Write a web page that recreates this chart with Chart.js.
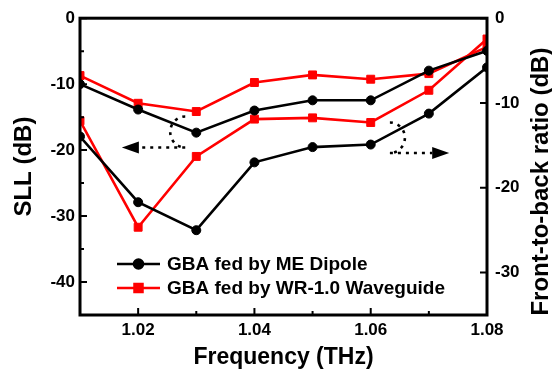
<!DOCTYPE html>
<html><head><meta charset="utf-8">
<script src="https://cdn.jsdelivr.net/npm/chart.js@4/dist/chart.umd.min.js"></script>
<style>html,body{margin:0;padding:0;background:#fff}#wrap{width:552px;height:373px;position:relative}</style>
</head><body><div id="wrap"><canvas id="c"></canvas></div>
<script>
const frequencies = [1.01, 1.02, 1.03, 1.04, 1.05, 1.06, 1.07, 1.08];
const sllDipole = [-10.0, -13.85, -17.35, -14.0, -12.45, -12.45, -7.95, -4.95];
const sllWaveguide = [-8.7, -12.9, -14.15, -9.75, -8.6, -9.25, -8.4, -4.35];
const fbrDipole = [-13.95, -21.7, -25.0, -17.0, -15.2, -14.9, -11.25, -5.8];
const fbrWaveguide = [-12.1, -24.65, -16.3, -11.9, -11.75, -12.3, -8.5, -2.45];
const seriesLabels = ['GBA fed by ME Dipole', 'GBA fed by WR-1.0 Waveguide'];
const xTickValues = [1.02, 1.04, 1.06, 1.08];
const xMinorValues = [1.03, 1.05, 1.07];
const sllTickValues = [0, -10, -20, -30, -40];
const sllMinorValues = [-5, -15, -25, -35];
const fbrTickValues = [0, -10, -20, -30];
const xTitle = 'Frequency (THz)';
const sllTitle = 'SLL (dB)';
const fbrTitle = 'Front-to-back ratio (dB)';
// dashed arrow annotations, in data units
const sllArrow = {arcX: 1.0281, arcY: -17.25, lineY: -19.6, tipX: 1.0172};
const fbrArrow = {arcX: 1.0633, arcY: -14.1, lineY: -15.9, tipX: 1.0735};

const FONT = '"Liberation Sans", Arial, sans-serif';
Chart.defaults.font.family = FONT;
Chart.defaults.color = '#000';

const toPts = arr => frequencies.map((f, i) => ({x: f, y: arr[i]}));
const BLACK = '#000000', RED = '#ff0000';
function ds(label, data, color, style, axis) {
  return {
    label, data: toPts(data), yAxisID: axis,
    borderColor: color, backgroundColor: color, borderWidth: 2.6,
    pointStyle: style, pointRadius: style === 'rect' ? 5.6 : 4.5,
    pointBorderWidth: 1, pointBorderColor: color, pointBackgroundColor: color,
    tension: 0, clip: 0
  };
}

const decor = {
  id: 'decor',
  afterDatasetsDraw(chart) {
    const {ctx, chartArea: a, scales} = chart;
    const x = scales.x, yl = scales.y, yr = scales.y1;
    ctx.save();
    ctx.strokeStyle = '#000'; ctx.fillStyle = '#000';
    // ticks (inward)
    ctx.lineWidth = 2;
    ctx.beginPath();
    xTickValues.forEach(v => { const p = x.getPixelForValue(v); ctx.moveTo(p, a.bottom); ctx.lineTo(p, a.bottom - 7); });
    xMinorValues.forEach(v => { const p = x.getPixelForValue(v); ctx.moveTo(p, a.bottom); ctx.lineTo(p, a.bottom - 4); });
    sllTickValues.forEach(v => { const p = yl.getPixelForValue(v); ctx.moveTo(a.left, p); ctx.lineTo(a.left + 7, p); });
    sllMinorValues.forEach(v => { const p = yl.getPixelForValue(v); ctx.moveTo(a.left, p); ctx.lineTo(a.left + 4, p); });
    fbrTickValues.forEach(v => { const p = yr.getPixelForValue(v); ctx.moveTo(a.right, p); ctx.lineTo(a.right - 7, p); });
    ctx.stroke();
    // frame
    ctx.lineWidth = 3;
    ctx.strokeRect(a.left, a.top, a.right - a.left, a.bottom - a.top);
    // annotations
    function arrow(ann, yScale, leftSide) {
      const cx = x.getPixelForValue(ann.arcX), cy = yScale.getPixelForValue(ann.arcY);
      const ly = yScale.getPixelForValue(ann.lineY), tx = x.getPixelForValue(ann.tipX);
      const ry = ly - cy, rx = 15;
      ctx.lineWidth = 2.6; ctx.setLineDash([3, 5]);
      ctx.beginPath();
      ctx.ellipse(cx, cy, rx, ry, 0, -Math.PI / 2, Math.PI / 2, leftSide);
      ctx.stroke();
      const headLen = 17, headH = 6;
      const base = leftSide ? tx + headLen : tx - headLen;
      ctx.beginPath(); ctx.moveTo(cx, ly); ctx.lineTo(base, ly); ctx.stroke();
      ctx.setLineDash([]);
      ctx.beginPath(); ctx.moveTo(tx, ly); ctx.lineTo(base, ly - headH); ctx.lineTo(base, ly + headH); ctx.closePath(); ctx.fill();
    }
    arrow(sllArrow, yl, true);
    arrow(fbrArrow, yr, false);
    // legend
    const dsets = chart.data.datasets;
    const rows = [264, 288];
    ctx.font = 'bold 19px ' + FONT; ctx.textBaseline = 'middle'; ctx.textAlign = 'left';
    [0, 1].forEach(i => {
      const d = dsets[i], yy = rows[i];
      ctx.strokeStyle = d.borderColor; ctx.fillStyle = d.borderColor; ctx.lineWidth = 2.6;
      ctx.beginPath(); ctx.moveTo(a.left + 37, yy); ctx.lineTo(a.left + 80, yy); ctx.stroke();
      Chart.helpers.drawPoint(ctx, {pointStyle: d.pointStyle, radius: d.pointRadius, borderWidth: 1}, a.left + 58.5, yy);
      ctx.fill();
      ctx.fillStyle = '#000';
      ctx.fillText(d.label, a.left + 87, yy + 1);
    });
    ctx.restore();
  },
  afterDraw(chart) {
    const {ctx, chartArea: a} = chart;
    ctx.save();
    ctx.font = 'bold 24px ' + FONT; ctx.fillStyle = '#000';
    ctx.textAlign = 'center'; ctx.textBaseline = 'middle';
    ctx.translate(541, (a.top + a.bottom) / 2 + 15);
    ctx.rotate(-Math.PI / 2);
    ctx.fillText(fbrTitle, 0, 0);
    ctx.restore();
  }
};

new Chart(document.getElementById('c'), {
  type: 'line',
  data: {
    datasets: [
      ds(seriesLabels[0], sllDipole, BLACK, 'circle', 'y'),
      ds(seriesLabels[1], sllWaveguide, RED, 'rect', 'y'),
      ds('', fbrDipole, BLACK, 'circle', 'y1'),
      ds('', fbrWaveguide, RED, 'rect', 'y1')
    ]
  },
  options: {
    responsive: true, maintainAspectRatio: false, animation: false,
    layout: {padding: {top: 15, left: 0, right: 0, bottom: 0}},
    plugins: {legend: {display: false}, tooltip: {enabled: false}},
    scales: {
      x: {
        type: 'linear', min: 1.01, max: 1.08,
        afterBuildTicks: s => { s.ticks = xTickValues.map(v => ({value: v})); },
        afterFit: s => { s.height = 58; },
        ticks: {font: {size: 17, weight: 'bold'}, padding: 5, maxRotation: 0, autoSkip: false,
          callback: v => v.toFixed(2)},
        grid: {drawOnChartArea: false, drawTicks: false}, border: {display: false},
        title: {display: true, text: xTitle, font: {size: 23, weight: 'bold'}, padding: {top: 0, bottom: 2}}
      },
      y: {
        type: 'linear', position: 'left', min: -45, max: 0,
        afterBuildTicks: s => { s.ticks = sllTickValues.map(v => ({value: v})); },
        afterFit: s => { s.width = 80; },
        ticks: {font: {size: 17, weight: 'bold'}, padding: 5},
        grid: {drawOnChartArea: false, drawTicks: false}, border: {display: false},
        title: {display: true, text: sllTitle, font: {size: 24, weight: 'bold'}, padding: {top: 10, bottom: 0}}
      },
      y1: {
        type: 'linear', position: 'right', min: -35, max: 0,
        afterBuildTicks: s => { s.ticks = fbrTickValues.map(v => ({value: v})); },
        afterFit: s => { s.width = 65; },
        ticks: {font: {size: 17, weight: 'bold'}, padding: 8},
        grid: {drawOnChartArea: false, drawTicks: false}, border: {display: false}
      }
    }
  },
  plugins: [decor]
});
</script>
</body></html>
